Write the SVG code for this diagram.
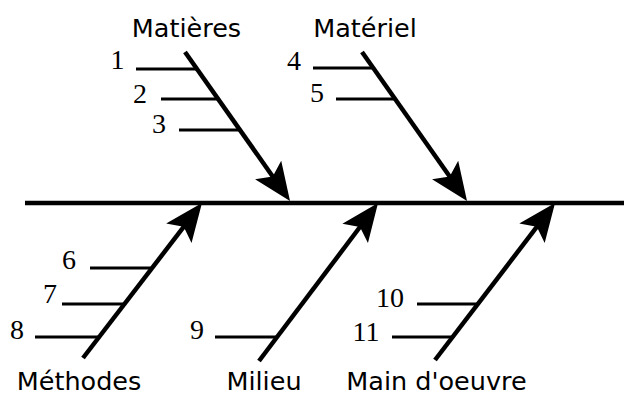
<svg xmlns="http://www.w3.org/2000/svg" width="624" height="396" viewBox="0 0 624 396">
  <style>
    .spine { stroke: #000; stroke-width: 4.5; fill: none; }
    .bone { stroke: #000; stroke-width: 4.5; fill: none; marker-end: url(#head); }
    .rib { stroke: #000; stroke-width: 3; fill: none; }
    .cat { font-family: "DejaVu Sans", Verdana, sans-serif; font-size: 25.5px; fill: #000; text-anchor: middle; }
    .num { font-family: "Liberation Serif", "Times New Roman", serif; font-size: 28px; fill: #000; text-anchor: middle; }
  </style>
  <defs>
    <!-- arrowhead: tip sits 20 units past the end of the shaft -->
    <marker id="head" markerUnits="userSpaceOnUse" markerWidth="60" markerHeight="40" viewBox="-30 -20 60 40" refX="0" refY="0" orient="auto" overflow="visible">
      <path d="M20,0 L-18,-16 L-10,0 L-18,16 Z" fill="#000"/>
    </marker>
  </defs>

  <!-- main spine -->
  <g id="spine">
    <line class="spine" x1="25" y1="203" x2="624" y2="203"/>
  </g>

  <g id="connectors">
    <line class="bone" x1="185" y1="52" x2="278.5" y2="184.7"/>
    <line class="bone" x1="362" y1="52" x2="455.5" y2="184.7"/>
    <line class="bone" x1="83" y1="358" x2="189.8" y2="218.9"/>
    <line class="bone" x1="259" y1="361" x2="366" y2="219"/>
    <line class="bone" x1="435" y1="360" x2="542.9" y2="218.9"/>
  </g>

  <g id="matieres">
    <text class="cat" x="186.5" y="37">Matières</text>
    <line class="rib" x1="136" y1="69" x2="196" y2="69"/>
    <line class="rib" x1="161" y1="99" x2="217" y2="99"/>
    <line class="rib" x1="179" y1="130" x2="239" y2="130"/>
    <text class="num" x="117.5" y="69">1</text>
    <text class="num" x="140" y="103">2</text>
    <text class="num" x="159" y="133">3</text>
  </g>

  <g id="materiel">
    <text class="cat" x="365" y="37">Matériel</text>
    <line class="rib" x1="313" y1="68" x2="372" y2="68"/>
    <line class="rib" x1="336" y1="99" x2="394" y2="99"/>
    <text class="num" x="294" y="70">4</text>
    <text class="num" x="317" y="102">5</text>
  </g>

  <g id="methodes">
    <text class="cat" x="79" y="390">Méthodes</text>
    <line class="rib" x1="90" y1="268" x2="151" y2="268"/>
    <line class="rib" x1="62" y1="304" x2="124" y2="304"/>
    <line class="rib" x1="35" y1="337" x2="98" y2="337"/>
    <text class="num" x="69" y="269">6</text>
    <text class="num" x="50" y="303">7</text>
    <text class="num" x="17" y="339">8</text>
  </g>

  <g id="milieu">
    <text class="cat" x="264" y="390">Milieu</text>
    <line class="rib" x1="215" y1="337" x2="277" y2="337"/>
    <text class="num" x="197" y="339">9</text>
  </g>

  <g id="main-oeuvre">
    <text class="cat" x="436.5" y="390">Main d'oeuvre</text>
    <line class="rib" x1="417" y1="304" x2="478" y2="304"/>
    <line class="rib" x1="392" y1="337" x2="452" y2="337"/>
    <text class="num" x="390" y="307">10</text>
    <text class="num" x="366" y="341">11</text>
  </g>
</svg>
